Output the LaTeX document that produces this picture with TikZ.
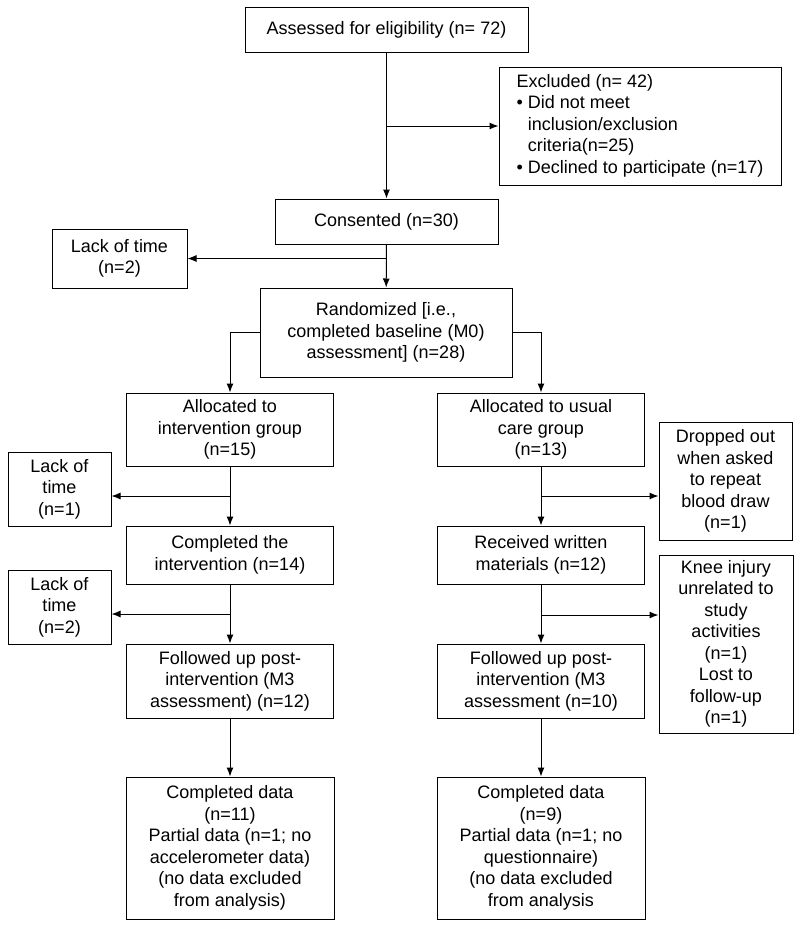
\documentclass[tikz,border=0pt]{standalone}
\usepackage{fontspec}
\setmainfont{Liberation Sans}
\usetikzlibrary{arrows.meta}

\begin{document}
\begin{tikzpicture}[x=1pt, y=-1pt,
  box/.style={draw, line width=1pt, align=center, inner sep=0pt,
    font=\fontsize{18}{21.5}\selectfont},
  flow/.style={arrows={-Latex[length=9pt,width=7pt]}, line width=1pt}]
\useasboundingbox (0,0) rectangle (800,927);
%top of the chart
\node[box, minimum width=283, minimum height=45] at (386.5,29.5) (assess) {Assessed for eligibility (n= 72)};
\node[box, minimum width=282, minimum height=118] at (640,126) (excl)
  {\begin{tabular}{@{}l@{\hspace{5pt}}l@{}}
   \multicolumn{2}{@{}l}{Excluded (n= 42)}\\
   \textbullet & Did not meet\\
   & inclusion/exclusion\\
   & criteria(n=25)\\
   \textbullet & Declined to participate (n=17)
   \end{tabular}};
\node[box, minimum width=223, minimum height=45] at (386.5,221.5) (cons) {Consented (n=30)};
\node[box, minimum width=135, minimum height=59] at (119.5,258.5) (lack0) {Lack of time\\(n=2)};
\node[box, minimum width=252, minimum height=89] at (386,332.5) (rand)
  {Randomized [i.e.,\\completed baseline (M0)\\assessment] (n=28)};
%intervention arm
\node[box, minimum width=207, minimum height=73] at (230,429.5) (alloc1) {Allocated to\\intervention group\\(n=15)};
\node[box, minimum width=103, minimum height=74] at (59.5,489) (lack1) {Lack of\\time\\(n=1)};
\node[box, minimum width=207, minimum height=58] at (230,555) (compl1) {Completed the\\intervention (n=14)};
\node[box, minimum width=103, minimum height=74] at (59.5,607) (lack2) {Lack of\\time\\(n=2)};
\node[box, minimum width=207, minimum height=74] at (230,681) (fol1) {Followed up post-\\intervention (M3\\assessment) (n=12)};
\node[box, minimum width=208, minimum height=142] at (230,848) (data1)
  {Completed data\\(n=11)\\Partial data (n=1; no\\accelerometer data)\\(no data excluded\\from analysis)};
%usual care arm
\node[box, minimum width=207, minimum height=73] at (541,429.5) (alloc2) {Allocated to usual\\care group\\(n=13)};
\node[box, minimum width=133, minimum height=118] at (725.5,481) (drop) {Dropped out\\when asked\\to repeat\\blood draw\\(n=1)};
\node[box, minimum width=207, minimum height=58] at (541,555) (recv) {Received written\\materials (n=12)};
\node[box, minimum width=134, minimum height=178] at (726,644) (knee)
  {Knee injury\\unrelated to\\study\\activities\\(n=1)\\Lost to\\follow-up\\(n=1)};
\node[box, minimum width=207, minimum height=74] at (541,681) (fol2) {Followed up post-\\intervention (M3\\assessment (n=10)};
\node[box, minimum width=208, minimum height=142] at (541,848) (data2)
  {Completed data\\(n=9)\\Partial data (n=1; no\\questionnaire)\\(no data excluded\\from analysis};
%connectors
\draw[flow] (assess) -- (cons);
\draw[flow] (assess.south |- excl.west) -- (excl.west);
\draw[flow] (cons) -- (rand);
\draw[flow] (cons.south |- lack0.east) -- (lack0.east);
\draw[flow] (rand.west) -| (alloc1);
\draw[flow] (rand.east) -| (alloc2);
\coordinate (j1) at (230,496);
\coordinate (j2) at (541,496);
\coordinate (j3) at (230,614);
\coordinate (j4) at (541,615);
\draw[flow] (alloc1) -- (compl1);
\draw[flow] (j1) -- (j1 -| lack1.east);
\draw[flow] (compl1) -- (fol1);
\draw[flow] (j3) -- (j3 -| lack2.east);
\draw[flow] (fol1) -- (data1);
\draw[flow] (alloc2) -- (recv);
\draw[flow] (j2) -- (j2 -| drop.west);
\draw[flow] (recv) -- (fol2);
\draw[flow] (j4) -- (j4 -| knee.west);
\draw[flow] (fol2) -- (data2);
\end{tikzpicture}
\end{document}
